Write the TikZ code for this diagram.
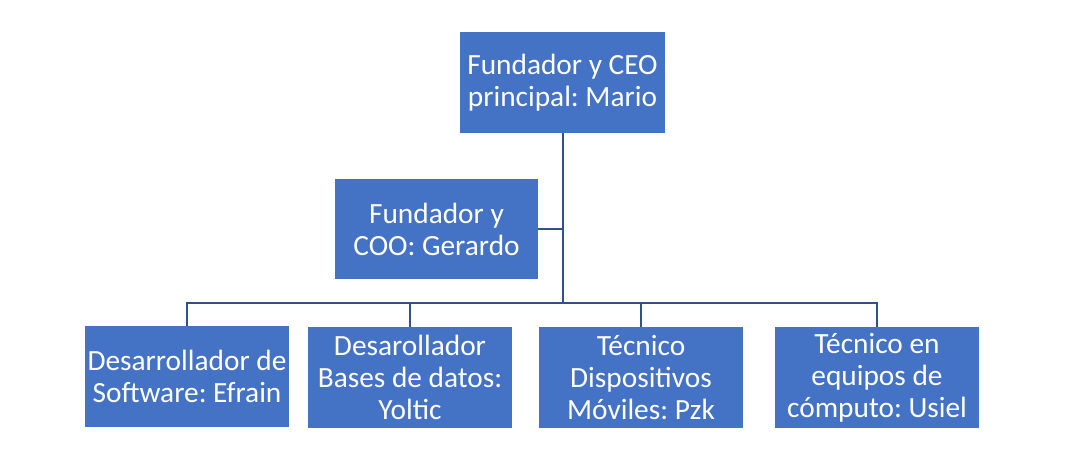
\documentclass[tikz,border=0pt]{standalone}
\usepackage{fontspec}
\setmainfont{Carlito}
\frenchspacing
\definecolor{boxblue}{HTML}{4472C4}
\definecolor{lineblue}{HTML}{2F528F}
\begin{document}
\begin{tikzpicture}[x=0.75pt,y=-0.75pt,
  orgbox/.style={rectangle, fill=boxblue, text=white, inner sep=0pt,
    minimum width=153pt, minimum height=75.75pt, align=center,
    font=\fontsize{22}{24}\selectfont\frenchspacing},
  link/.style={draw=lineblue, line width=1.5pt}]
\useasboundingbox (0,0) rectangle (1078,459);
\node[orgbox, minimum width=153.75pt] (ceo) at (562.5,82.5) {Fundador y CEO\\principal: Mario};
\node[orgbox, minimum width=152.25pt, minimum height=75pt] (coo) at (436.5,229) {Fundador y\\COO: Gerardo};
\node[orgbox] (b1) at (187,376.5) {Desarrollador de\\Software: Efrain};
\node[orgbox] (b2) at (410,377.5) {Desarollador\\Bases de datos:\\Yoltic};
\node[orgbox] (b3) at (641,377.5) {Técnico\\Dispositivos\\Móviles: Pzk};
\node[orgbox] (b4) at (877,377.5) {Técnico en\\equipos de\\cómputo: Usiel};
\coordinate (j) at (562.5,303);
\draw[link] (ceo.south) -- (j);
\draw[link] (coo.east) -- (coo.east -| j);
\draw[link] (b1.north) |- (j);
\draw[link] (b4.north) |- (j);
\draw[link] (b2.north) -- (b2.north |- j);
\draw[link] (b3.north) -- (b3.north |- j);
\end{tikzpicture}
\end{document}
